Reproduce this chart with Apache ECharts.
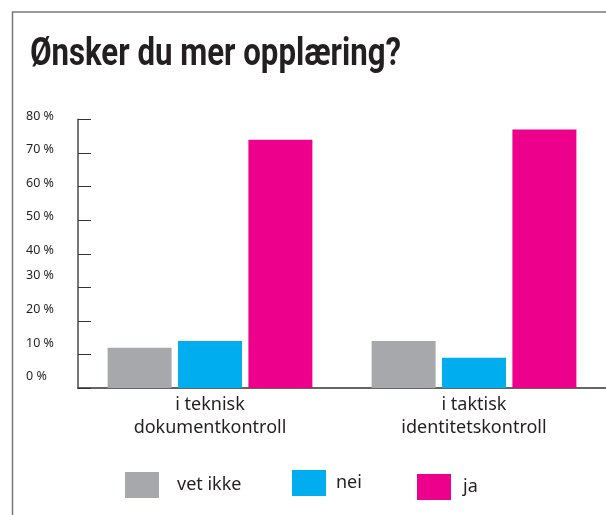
<!DOCTYPE html>
<html>
<head>
<meta charset="utf-8">
<script src="https://cdn.jsdelivr.net/npm/echarts@6/dist/echarts.min.js"></script>
<style>
  html, body { margin: 0; padding: 0; background: #fff; }
  #chart { width: 606px; height: 515px; }
</style>
</head>
<body>
<div id="chart"></div>
<script>
const categories = ['i teknisk\ndokumentkontroll', 'i taktisk\nidentitetskontroll']
const vetIkke = [12, 14]
const nei = [14, 9]
const ja = [74, 77]
const seriesNames = ['vet ikke', 'nei', 'ja']
const colors = ['#a7a8ab', '#00aeef', '#ec008c']

const chart = echarts.init(document.getElementById('chart'))
const font = '"Noto Sans", "Open Sans", sans-serif'

// legend items sit at slightly uneven spots in the original
const legendSpots = [
    { left: 125, top: 472, pad: 13 },
    { left: 292, top: 470, pad: 5 },
    { left: 417, top: 474, pad: 7 },
]

chart.setOption({
    animation: false,
    graphic: [
        {
            type: 'polyline',
            shape: { points: [[12.5, 515], [12.5, 12], [606, 12]] },
            style: { stroke: '#777', lineWidth: 1.5, fill: null },
        },
        {
            // condensed bold title, squeezed horizontally
            type: 'text',
            x: 30,
            y: 55,
            scaleX: 0.8,
            style: {
                text: 'Ønsker du mer opplæring?',
                font: 'bold 39px Roboto, sans-serif',
                fill: '#231f20',
                verticalAlign: 'middle',
            },
        },
    ],
    legend: legendSpots.map((s, i) => ({
        data: [seriesNames[i]],
        left: s.left,
        top: s.top,
        padding: 0,
        itemWidth: 34,
        itemHeight: 26,
        icon: 'rect',
        selectedMode: false,
        textStyle: {
            fontFamily: font,
            fontSize: 18,
            color: '#231f20',
            padding: [0, 0, 0, s.pad],
        },
    })),
    grid: {
        left: 78,
        top: 119.5,
        width: 530,
        bottom: 127,
    },
    xAxis: {
        type: 'category',
        data: categories,
        axisLine: { lineStyle: { color: '#333', width: 1.5 } },
        axisTick: { inside: true, length: 6, lineStyle: { color: '#333' } },
        axisLabel: {
            margin: 5,
            fontFamily: font,
            fontSize: 18,
            lineHeight: 23,
            color: '#231f20',
        },
    },
    yAxis: {
        type: 'value',
        min: 0,
        max: 80,
        interval: 10,
        splitLine: { show: false },
        axisLine: { show: true, lineStyle: { color: '#777', width: 2 } },
        axisTick: { show: true, inside: true, length: 13, lineStyle: { color: '#333' } },
        axisLabel: {
            align: 'left',
            margin: 52,
            verticalAlign: 'bottom',
            fontFamily: font,
            fontSize: 12.5,
            color: '#231f20',
            formatter: v => (v >= 40 ? '{a|' : '{b|') + v + ' %}',
            rich: {
                a: { lineHeight: 7, fontFamily: font, fontSize: 12.5, color: '#231f20' },
                b: { lineHeight: 23, fontFamily: font, fontSize: 12.5, color: '#231f20' },
            },
        },
    },
    series: [vetIkke, nei, ja].map((d, i) => ({
        name: seriesNames[i],
        type: 'bar',
        data: d,
        barWidth: 64,
        barGap: '10%',
        itemStyle: { color: colors[i] },
    })),
})
</script>
</body>
</html>
